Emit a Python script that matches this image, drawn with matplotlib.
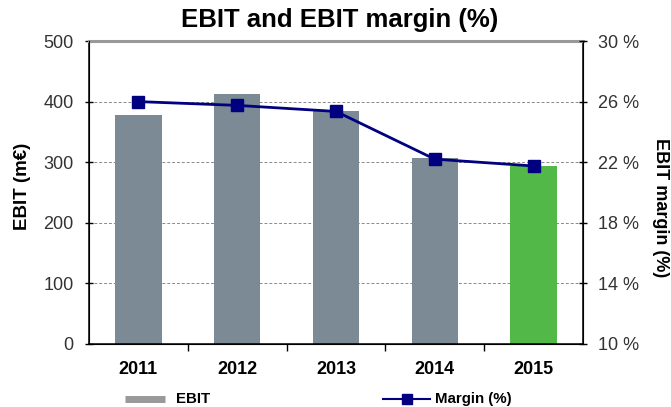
import matplotlib
matplotlib.use("Agg")
import matplotlib.pyplot as plt
from matplotlib.lines import Line2D
from matplotlib.ticker import FixedLocator

plt.rcParams['font.family'] = ['Liberation Sans', 'DejaVu Sans']

years = ['2011', '2012', '2013', '2014', '2015']
ebit = [378, 412, 384, 307, 294]
margin = [26.0, 25.75, 25.35, 22.2, 21.75]
bar_colors = ['#7b8a95', '#7b8a95', '#7b8a95', '#7b8a95', '#52b848']
left_ticks = [0, 100, 200, 300, 400, 500]
right_ticks = [10, 14, 18, 22, 26, 30]

W, H = 671, 407
fig = plt.figure(figsize=(W/100, H/100), dpi=100)
ax = fig.add_axes([89/W, 1-344/H, (583-89)/W, (344-41)/H])
x = list(range(len(years)))
ax.bar(x, ebit, width=0.47, color=bar_colors, zorder=2)
ax.set_xlim(-0.5, 4.5)
ax.set_ylim(0, 500)
ax.set_yticks(left_ticks)
ax.set_yticklabels([str(t) for t in left_ticks], fontsize=13, color='#333333')
ax.set_xticks(x)
ax.set_xticklabels(years, fontsize=13, fontweight='bold')
ax.tick_params(axis='x', length=0, pad=12)
ax.xaxis.set_minor_locator(FixedLocator([0.5, 1.5, 2.5, 3.5]))
ax.tick_params(axis='x', which='minor', length=5, direction='out', width=1)
ax.tick_params(axis='y', direction='inout', length=6, width=1, pad=8)
for v in left_ticks[1:-1]:
    ax.axhline(v, color='#8a8a8a', lw=0.7, ls=(0, (3, 2)), zorder=1)
ax.set_ylabel('EBIT (m€)', fontsize=13.5, fontweight='bold', va='center')
ax.yaxis.set_label_coords((22.5-89)/494, (344-186)/303)
ax.spines['top'].set_color('#999999')
ax.spines['top'].set_linewidth(2.2)
for s in ['left', 'right', 'bottom']:
    ax.spines[s].set_linewidth(1.1)

ax2 = ax.twinx()
ax2.plot(x, margin, color='#000080', lw=2, marker='s', markersize=8, zorder=3)
ax2.set_ylim(10, 30)
ax2.set_yticks(right_ticks)
ax2.set_yticklabels([f'{t} %' for t in right_ticks], fontsize=13, color='#333333')
ax2.tick_params(axis='y', direction='inout', length=6, width=1, pad=8)
ax2.set_ylabel('EBIT margin (%)', fontsize=13, fontweight='bold', rotation=270, va='center')
ax2.yaxis.set_label_coords((660-89)/494, (344-207.5)/303)
ax2.spines['top'].set_visible(False)

fig.text(340/W, 1-20/H, 'EBIT and EBIT margin (%)', fontsize=18.5, fontweight='bold',
         ha='center', va='center')

# legend
ly = 1-399/H
fig.add_artist(Line2D([125/W, 165/W], [ly, ly], transform=fig.transFigure,
                      color='#999999', lw=5, solid_capstyle='butt'))
fig.text(176/W, ly, 'EBIT', fontsize=10.8, fontweight='bold', ha='left', va='center')
fig.add_artist(Line2D([383/W, 430/W], [ly, ly], transform=fig.transFigure,
                      color='#000080', lw=1.5))
fig.add_artist(Line2D([406.5/W], [ly], transform=fig.transFigure, color='#000080',
                      marker='s', markersize=7, lw=0))
fig.text(435/W, ly, 'Margin (%)', fontsize=10.8, fontweight='bold', ha='left', va='center')

fig.savefig('out.png', dpi=100)
